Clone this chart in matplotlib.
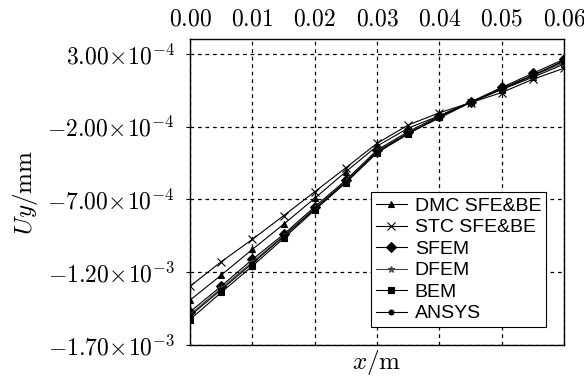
import matplotlib
matplotlib.use("Agg")
import matplotlib.pyplot as plt
import numpy as np

plt.rcParams['mathtext.fontset'] = 'cm'
plt.rcParams['font.family'] = ['DejaVu Serif']

x = [0.0, 0.005, 0.01, 0.015, 0.02, 0.025, 0.03, 0.035, 0.04, 0.045, 0.05, 0.055, 0.06]

dmc = [-1.392e-3, -1.220e-3, -1.043e-3, -0.871e-3, -0.692e-3, -0.509e-3, -0.333e-3,
       -0.210e-3, -0.124e-3, -0.032e-3, 0.055e-3, 0.140e-3, 0.230e-3]
stc = [-1.296e-3, -1.128e-3, -0.974e-3, -0.812e-3, -0.647e-3, -0.482e-3, -0.314e-3,
       -0.188e-3, -0.104e-3, -0.035e-3, 0.035e-3, 0.126e-3, 0.202e-3]
sfem = [-1.472e-3, -1.296e-3, -1.112e-3, -0.940e-3, -0.750e-3, -0.567e-3, -0.360e-3,
        -0.234e-3, -0.126e-3, -0.030e-3, 0.070e-3, 0.167e-3, 0.264e-3]
dfem = [-1.490e-3, -1.310e-3, -1.130e-3, -0.950e-3, -0.760e-3, -0.575e-3, -0.370e-3,
        -0.240e-3, -0.130e-3, -0.032e-3, 0.060e-3, 0.150e-3, 0.240e-3]
bem = [-1.525e-3, -1.339e-3, -1.158e-3, -0.968e-3, -0.773e-3, -0.585e-3, -0.380e-3,
       -0.250e-3, -0.130e-3, -0.032e-3, 0.062e-3, 0.155e-3, 0.250e-3]
ansys = [-1.500e-3, -1.320e-3, -1.140e-3, -0.955e-3, -0.765e-3, -0.578e-3, -0.372e-3,
         -0.245e-3, -0.140e-3, -0.034e-3, 0.060e-3, 0.152e-3, 0.255e-3]

labels = ['DMC SFE&BE', 'STC SFE&BE', 'SFEM', 'DFEM', 'BEM', 'ANSYS']
markers = ['^', 'x', 'D', '*', 's', 'o']
msizes = [4.5, 6, 5, 5, 4.5, 3.5]
colors = ['black', 'black', 'black', '#444444', 'black', 'black']
series = [dmc, stc, sfem, dfem, bem, ansys]

xticks = [0.00, 0.01, 0.02, 0.03, 0.04, 0.05, 0.06]
yticks = [-1.7e-3, -1.2e-3, -7.0e-4, -2.0e-4, 3.0e-4]
ytick_labels = [r'$-1.70\!\times\!10^{-3}$', r'$-1.20\!\times\!10^{-3}$', r'$-7.00\!\times\!10^{-4}$',
                r'$-2.00\!\times\!10^{-4}$', r'$3.00\!\times\!10^{-4}$']

fig = plt.figure(figsize=(5.84, 3.90), dpi=100)
ax = fig.add_axes([190/584, 1-345/390, (564-190)/584, (345-39)/390])

for s, lab, m, ms, c in zip(series, labels, markers, msizes, colors):
    ax.plot(x, s, color=c, lw=0.8, marker=m, ms=ms, label=lab,
            markeredgewidth=0.8)

ax.set_xlim(0, 0.06)
ax.set_ylim(-1.7e-3, 4.03e-4)
ax.xaxis.tick_top()
ax.set_xticks(xticks)
ax.set_xticklabels([f'${t:.2f}$' for t in xticks])
ax.set_yticks(yticks)
ax.set_yticklabels(ytick_labels)
ax.tick_params(axis='x', direction='in', length=0, labelsize=17, pad=6)
ax.tick_params(axis='y', direction='out', length=3, labelsize=17, width=0.8, pad=8)
ax.grid(True, color='black', linestyle=(0, (3, 3)), lw=0.9)
for sp in ax.spines.values():
    sp.set_linewidth(1.0)

ax.set_xlabel(r'$x/\mathrm{m}$', fontsize=18, labelpad=2)
ax.xaxis.set_label_position('bottom')
ax.set_ylabel(r'$Uy/\mathrm{mm}$', fontsize=18, labelpad=5)

leg = ax.legend(loc='lower right', bbox_to_anchor=(0.952, 0.058), fancybox=False,
                edgecolor='black', framealpha=1, prop={'family': 'Liberation Sans', 'size': 14},
                handlelength=1.6, handletextpad=0.4, borderpad=0.25, labelspacing=0.2,
                borderaxespad=0)
leg.get_frame().set_linewidth(0.8)

fig.savefig('out.png', dpi=100)
